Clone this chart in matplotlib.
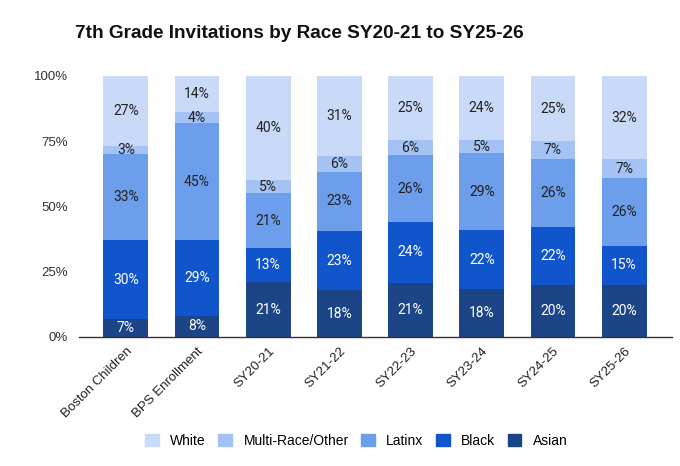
import numpy as np
import matplotlib.pyplot as plt
from matplotlib.patches import Patch

# chart data
categories = ['Boston Children', 'BPS Enrollment', 'SY20-21', 'SY21-22',
              'SY22-23', 'SY23-24', 'SY24-25', 'SY25-26']
asian = [7, 8, 21, 18, 21, 18, 20, 20]
black = [30, 29, 13, 23, 24, 22, 22, 15]
latinx = [33, 45, 21, 23, 26, 29, 26, 26]
multi = [3, 4, 5, 6, 6, 5, 7, 7]
white = [27, 14, 40, 31, 25, 24, 25, 32]

series = [('Asian', asian, '#1c4587', 'white'),
          ('Black', black, '#1155cc', 'white'),
          ('Latinx', latinx, '#6d9eeb', '#222222'),
          ('Multi-Race/Other', multi, '#a4c2f4', '#222222'),
          ('White', white, '#c9daf8', '#222222')]

fig = plt.figure(figsize=(6.8, 4.66), dpi=100)
ax = fig.add_axes([0.116, 0.277, 0.872, 0.560])

x = np.arange(len(categories))
totals = np.sum([s[1] for s in series], axis=0).astype(float)
bottom = np.zeros(len(categories))
for name, vals, col, tcol in series:
	frac = np.array(vals) / totals
	ax.bar(x, frac, 0.63, bottom=bottom, color=col, edgecolor='none', label=name)
	for i in range(len(categories)):
		ax.text(x[i], bottom[i] + frac[i] / 2, '%d%%' % vals[i], ha='center', va='center',
		        fontsize=10, color=tcol, family='Roboto')
	bottom += frac

ax.set_xlim(-0.66, 7.67)
ax.set_ylim(0, 1.0)
ax.set_yticks([0, 0.25, 0.5, 0.75, 1.0])
ax.set_yticklabels(['0%', '25%', '50%', '75%', '100%'], family='Liberation Sans', fontsize=9.5, color='#333333')
ax.set_xticks(x)
ax.set_xticklabels(categories, rotation=45, ha='right', rotation_mode='anchor',
                   family='Liberation Sans', fontsize=9.5, color='#222222')
ax.tick_params(axis='both', length=0)
ax.tick_params(axis='x', pad=6)
ax.tick_params(axis='y', pad=8)
for s in ['top', 'right', 'left']:
	ax.spines[s].set_visible(False)
ax.spines['bottom'].set_color('#333333')
ax.spines['bottom'].set_linewidth(1)

fig.text(0.110, 0.929, '7th Grade Invitations by Race SY20-21 to SY25-26', fontsize=13.7,
         fontweight='bold', family='Liberation Sans', va='center', ha='left', color='#111111')

handles = [Patch(color=s[2], label=s[0]) for s in reversed(series)]
fig.legend(handles=handles, loc='center', bbox_to_anchor=(0.524, 0.054), ncol=5, frameon=False,
           prop={'family': 'Liberation Sans', 'size': 10}, handlelength=1.0, handleheight=1.0,
           columnspacing=0.9, handletextpad=0.8)

plt.savefig('out.png', dpi=100)
